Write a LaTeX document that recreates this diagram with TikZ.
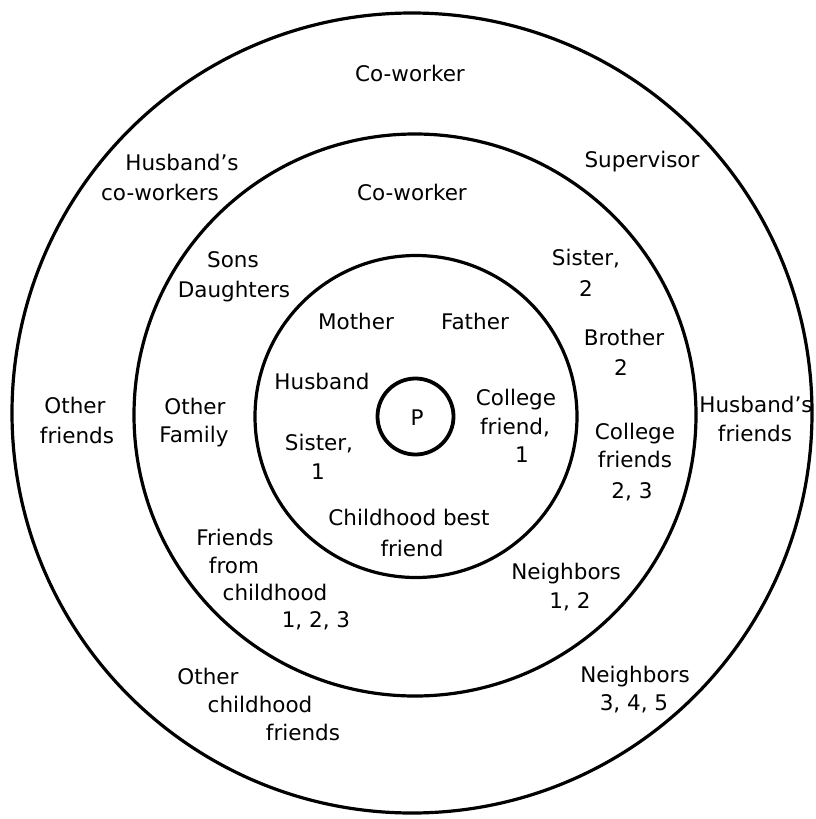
\documentclass[tikz,border=0pt]{standalone}
\usepackage{fontspec}
\setmainfont{DejaVu Sans}
\begin{document}
\begin{tikzpicture}[x=1pt,y=-1pt,
  ring/.style={draw=black,line width=3.2pt},
  lbl/.style={font=\fontsize{21.5}{30}\selectfont,inner sep=0pt,text height=15.7pt,text depth=0pt,anchor=center}]
\useasboundingbox (0,0) rectangle (815,819);
% circles
\draw[ring] (412,413) circle[radius=400];
\draw[ring] (415,415) circle[radius=281];
\draw[ring] (416,416.5) circle[radius=161];
\draw[ring,line width=3.8pt] (415.5,416.5) circle[radius=38];
% centre
\node[lbl] (p) at (417,418) {P};
% inner ring
\node[lbl] (mother) at (356,322) {Mother};
\node[lbl] (father) at (475,322) {Father};
\node[lbl] (husband) at (322,382) {Husband};
\node[lbl] (cf1a) at (516,398) {College};
\node[lbl] (cf1b) at (515,427) {friend,};
\node[lbl] (cf1c) at (522,455) {1};
\node[lbl] (sis1a) at (319,443) {Sister,};
\node[lbl] (sis1b) at (318,472) {1};
\node[lbl] (cbfa) at (409,518) {Childhood best};
\node[lbl] (cbfb) at (412,549) {friend};
% middle ring
\node[lbl] (cw2) at (412,193) {Co-worker};
\node[lbl] (sons) at (233,260) {Sons};
\node[lbl] (daughters) at (234,290) {Daughters};
\node[lbl] (sis2a) at (586,258) {Sister,};
\node[lbl] (sis2b) at (586,289) {2};
\node[lbl] (bro2a) at (624,338) {Brother};
\node[lbl] (bro2b) at (621,368) {2};
\node[lbl] (ofama) at (195,407) {Other};
\node[lbl] (ofamb) at (194,435) {Family};
\node[lbl] (cf23a) at (635,432) {College};
\node[lbl] (cf23b) at (635,460) {friends};
\node[lbl] (cf23c) at (632,491) {2, 3};
\node[lbl] (ffca) at (235,538) {Friends};
\node[lbl] (ffcb) at (234,566) {from};
\node[lbl] (ffcc) at (275,593) {childhood};
\node[lbl] (ffcd) at (316,620) {1, 2, 3};
\node[lbl] (nb12a) at (566,572) {Neighbors};
\node[lbl] (nb12b) at (570,601) {1, 2};
% outer ring
\node[lbl] (cw3) at (410,74) {Co-worker};
\node[lbl] (hcwa) at (182,163) {Husband's};
\node[lbl] (hcwb) at (160,193) {co-workers};
\node[lbl] (sup) at (642,160) {Supervisor};
\node[lbl] (ofra) at (75,406) {Other};
\node[lbl] (ofrb) at (77,436) {friends};
\node[lbl] (hfra) at (756,405) {Husband's};
\node[lbl] (hfrb) at (755,434) {friends};
\node[lbl] (ocfa) at (208,677) {Other};
\node[lbl] (ocfb) at (260,705) {childhood};
\node[lbl] (ocfc) at (303,733) {friends};
\node[lbl] (nb345a) at (635,675) {Neighbors};
\node[lbl] (nb345b) at (634,703) {3, 4, 5};
\end{tikzpicture}
\end{document}
